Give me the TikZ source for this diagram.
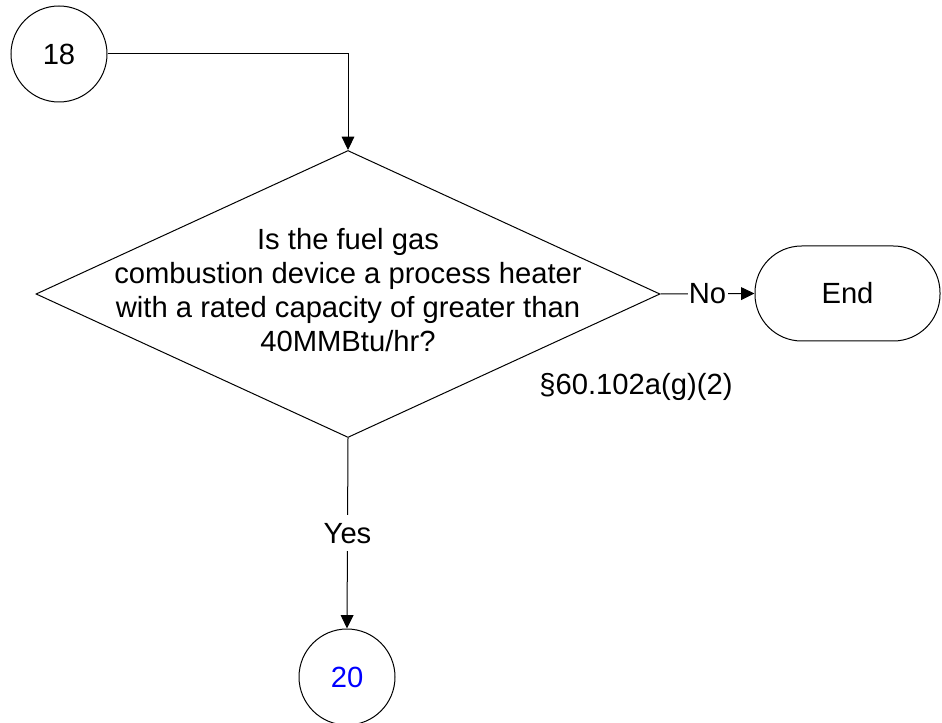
\documentclass[tikz,border=0pt]{standalone}
\usepackage{fontspec}
\setmainfont{Liberation Sans}
\usetikzlibrary{arrows.meta,shapes.geometric}
\definecolor{linkblue}{RGB}{0,0,255}
\begin{document}
\begin{tikzpicture}[x=0.75pt,y=-0.75pt,
  every node/.style={font=\fontsize{21.9pt}{25.5pt}\selectfont},
  ln/.style={draw=black,line width=0.75pt},
  arr/.style={ln,-{Triangle[length=10pt,width=9.5pt]}},
  conn/.style={ln,circle,minimum size=72pt,inner sep=0pt},
  decision/.style={ln,diamond,minimum width=468pt,minimum height=215.25pt,inner sep=0pt},
  term/.style={ln,rectangle,rounded corners=35pt,minimum width=138.75pt,minimum height=71.25pt},
  lbl/.style={fill=white,inner xsep=1pt,inner ysep=6pt}]
\useasboundingbox (0,0) rectangle (942,723);
\node[conn] (c18) at (59,54) {18};
\node[decision] (q) at (348,294) {};
\node[align=center] (qtext) at (348,290) {Is the fuel gas\\combustion device a process heater\\with a rated capacity of greater than\\40MMBtu/hr?};
\node[term] (end) at (847.5,293.5) {End};
\node (sec) at (636,387) {§60.102a(g)(2)};
\node[conn,text=linkblue] (c20) at (347,677) {20};
\draw[arr] (c18.east) -| (q.north);
\draw[arr] (q.east) -- node[lbl,inner ysep=1pt] {No} (end.west);
\draw[arr] (q.south) -- node[lbl] {Yes} (c20.north);
\end{tikzpicture}
\end{document}
